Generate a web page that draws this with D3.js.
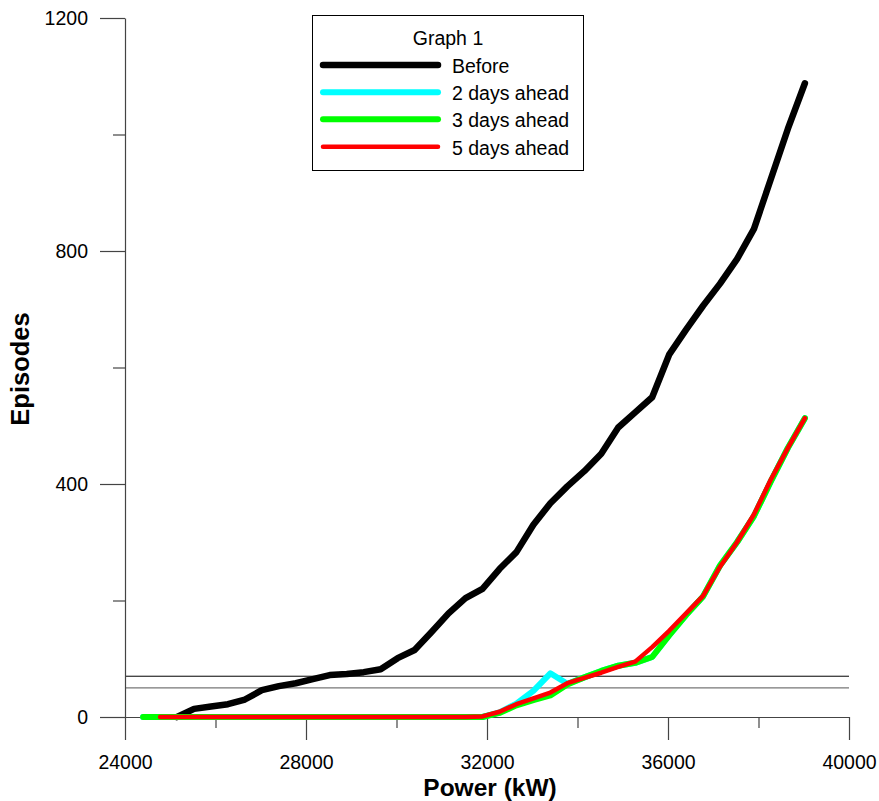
<!DOCTYPE html>
<html>
<head>
<meta charset="utf-8">
<script src="https://cdn.jsdelivr.net/npm/d3@7"></script>
<style>
  html, body { margin: 0; padding: 0; background: #fff; }
  svg { display: block; font-family: "Liberation Sans", Arial, sans-serif; }
</style>
</head>
<body>
<svg id="chart" width="879" height="801"></svg>
<script>
// Power levels (kW) shared by every series
const power = [24400, 24775, 25150, 25525, 25900, 26275, 26650, 27025, 27400, 27775,
               28150, 28525, 28900, 29275, 29650, 30025, 30400, 30775, 31150, 31525,
               31900, 32275, 32650, 33025, 33400, 33775, 34150, 34525, 34900, 35275,
               35650, 36025, 36400, 36775, 37150, 37525, 37900, 38275, 38650, 39025];

// Episode counts per series (null = no value at that power)
const before = [null, null, 0, 14, 18, 22, 30, 46, 53, 58,
                65, 72, 74, 77, 82, 101, 115, 146, 178, 204,
                220, 254, 283, 330, 367, 396, 422, 452, 497, 523,
                549, 622, 665, 706, 744, 786, 838, 924, 1010, 1088];

const ahead2 = [0, 0, 0, 0, 0, 0, 0, 0, 0, 0,
                0, 0, 0, 0, 0, 0, 0, 0, 0, 0,
                0, 8, 23, 45, 75, 57, 68, 79, 88, 93,
                103, 140, 175, 207, 260, 300, 345, 405, 462, 513];

const ahead3 = [0, 0, 0, 0, 0, 0, 0, 0, 0, 0,
                0, 0, 0, 0, 0, 0, 0, 0, 0, 0,
                0, 7, 20, 29, 37, 56, 68, 79, 88, 93,
                103, 140, 175, 207, 260, 300, 345, 405, 462, 513];

const ahead5 = [null, 0, 0, 0, 0, 0, 0, 0, 0, 0,
                0, 0, 0, 0, 0, 0, 0, 0, 0, 0,
                1, 9, 22, 32, 42, 58, 67, 76, 86, 95,
                120, 148, 178, 208, 258, 300, 348, 408, 462, 513];

const seriesNames = ["Before", "2 days ahead", "3 days ahead", "5 days ahead"];
const seriesColors = ["#000000", "#00ffff", "#00ff00", "#ff0000"];
const seriesWidths = [6.5, 6, 6, 4.5];

// Threshold lines across the plot
const thresholds = [70, 50];
const thresholdColors = ["#000000", "#777777"];

const xMajorTicks = [24000, 28000, 32000, 36000, 40000];
const xMinorTicks = [26000, 30000, 34000, 38000];
const yMajorTicks = [0, 400, 800, 1200];
const yMinorTicks = [200, 600, 1000];

const svg = d3.select("#chart");

const x = d3.scaleLinear().domain([24000, 40000]).range([125, 849]);
const y = d3.scaleLinear().domain([0, 1200]).range([717, 18]);

const axisColor = "#444";

// Threshold lines
svg.append("g").selectAll("line")
  .data(thresholds)
  .join("line")
  .attr("x1", x(24000)).attr("x2", x(40000))
  .attr("y1", d => y(d)).attr("y2", d => y(d))
  .attr("stroke", (d, i) => thresholdColors[i])
  .attr("stroke-width", (d, i) => i === 0 ? 1 : 1.4);

// Axes
svg.append("g")
  .attr("transform", `translate(0,${y(0)})`)
  .call(d3.axisBottom(x).tickValues(xMajorTicks).tickSize(23).tickSizeOuter(0)
        .tickPadding(15).tickFormat(d3.format("d")));
svg.append("g")
  .attr("transform", `translate(0,${y(0)})`)
  .call(d3.axisBottom(x).tickValues(xMinorTicks).tickSize(11).tickSizeOuter(0).tickFormat(""))
  .call(g => g.select(".domain").remove());

svg.append("g")
  .attr("transform", `translate(${x(24000)},0)`)
  .call(d3.axisLeft(y).tickValues(yMajorTicks).tickSize(25).tickSizeOuter(0)
        .tickPadding(12).tickFormat(d3.format("d")));
svg.append("g")
  .attr("transform", `translate(${x(24000)},0)`)
  .call(d3.axisLeft(y).tickValues(yMinorTicks).tickSize(12).tickSizeOuter(0).tickFormat(""))
  .call(g => g.select(".domain").remove());

svg.selectAll(".domain, .tick line").attr("stroke", axisColor).attr("stroke-width", 1.2);
svg.selectAll(".tick text")
  .attr("font-family", "'Liberation Sans', Arial, sans-serif")
  .attr("font-size", 19.5)
  .attr("fill", "#000");

// Axis titles
svg.append("text")
  .attr("x", 490).attr("y", 795.5)
  .attr("text-anchor", "middle")
  .attr("font-weight", "bold")
  .attr("font-size", 24.5)
  .text("Power (kW)");

svg.append("text")
  .attr("transform", "translate(29,369) rotate(-90)")
  .attr("text-anchor", "middle")
  .attr("font-weight", "bold")
  .attr("font-size", 25.5)
  .text("Episodes");

// Data lines
const allSeries = [before, ahead2, ahead3, ahead5];
const line = d3.line()
  .defined(d => d[1] !== null)
  .x(d => x(d[0]))
  .y(d => y(d[1]));

svg.append("g").selectAll("path")
  .data(allSeries)
  .join("path")
  .attr("d", s => line(power.map((p, i) => [p, s[i]])))
  .attr("fill", "none")
  .attr("stroke", (d, i) => seriesColors[i])
  .attr("stroke-width", (d, i) => seriesWidths[i])
  .attr("stroke-linecap", "round")
  .attr("stroke-linejoin", "round");

// Legend
const legend = svg.append("g");
legend.append("rect")
  .attr("x", 312.5).attr("y", 15.5)
  .attr("width", 271).attr("height", 155)
  .attr("fill", "#fff").attr("stroke", "#000").attr("stroke-width", 1);
legend.append("text")
  .attr("x", 448).attr("y", 45)
  .attr("text-anchor", "middle")
  .attr("font-size", 19.5)
  .text("Graph 1");

const rowY = [65, 92.3, 119.3, 146.7];
const rows = legend.selectAll("g.row")
  .data(seriesNames)
  .join("g")
  .attr("class", "row")
  .attr("transform", (d, i) => `translate(0,${rowY[i]})`);
rows.append("line")
  .attr("x1", 323).attr("x2", 438)
  .attr("stroke", (d, i) => seriesColors[i])
  .attr("stroke-width", (d, i) => seriesWidths[i])
  .attr("stroke-linecap", "round");
rows.append("text")
  .attr("x", 452).attr("y", 8)
  .attr("font-size", 19.5)
  .text(d => d);
</script>
</body>
</html>
